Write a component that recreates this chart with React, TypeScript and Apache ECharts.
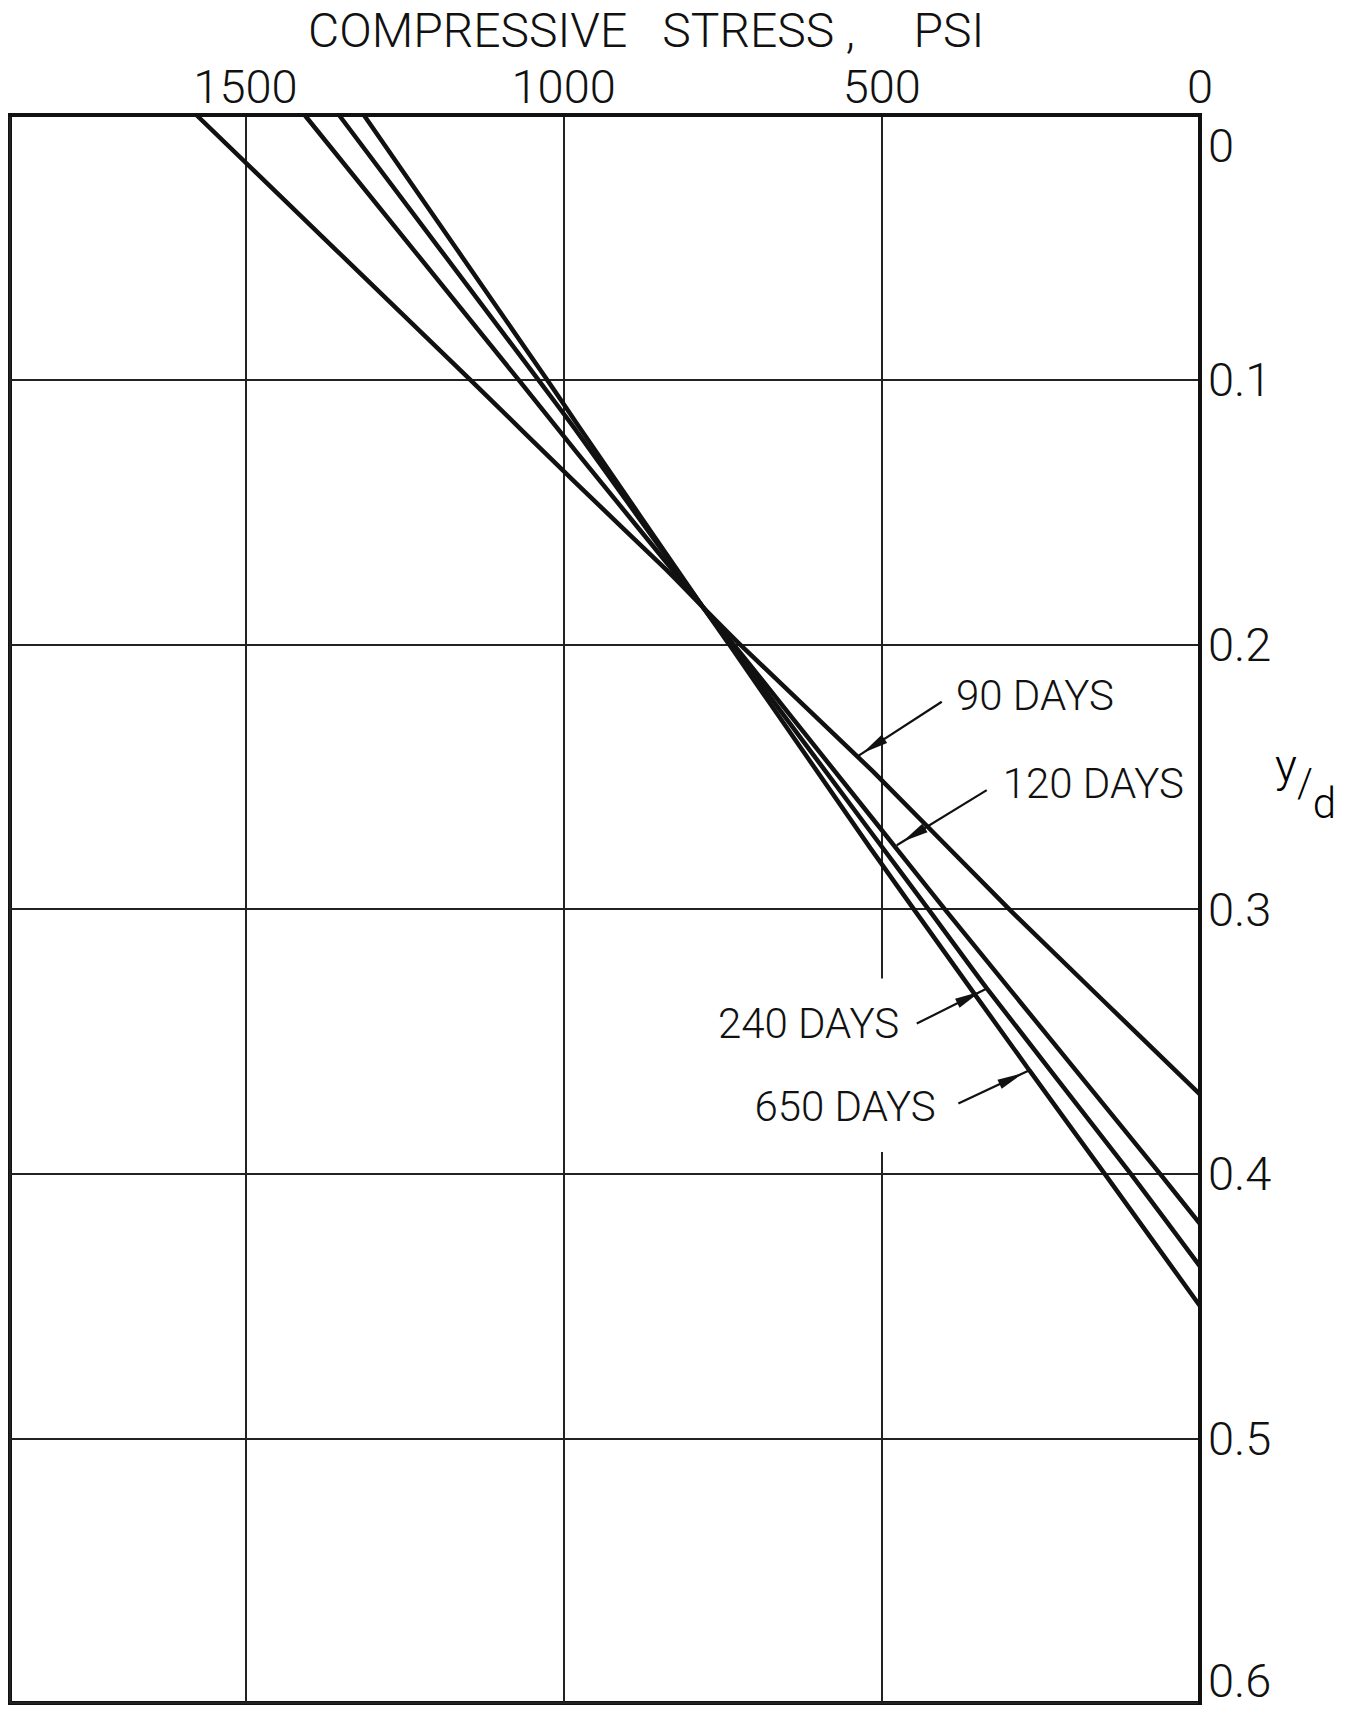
import React, { useEffect, useRef } from "react";
import * as echarts from "echarts";

// Compressive stress (psi) vs depth ratio y/d
const days90: [number, number][] = [
  [1577, 0], [1147, 0.1], [981, 0.139], [838, 0.172], [781, 0.186], [723, 0.2],
  [514, 0.248], [296, 0.301], [0, 0.37],
];
const days120: [number, number][] = [
  [1407, 0], [1071, 0.1], [981, 0.127], [781, 0.186], [733, 0.2], [514, 0.266],
  [398, 0.301], [63, 0.4], [0, 0.419],
];
const days240: [number, number][] = [
  [1353, 0], [1040, 0.1], [981, 0.119], [781, 0.186], [737, 0.2], [517, 0.271],
  [424, 0.301], [335, 0.33], [109, 0.4], [0, 0.435],
];
const days650: [number, number][] = [
  [1314, 0], [1026, 0.1], [981, 0.116], [781, 0.186], [740, 0.2], [518, 0.277],
  [447, 0.301], [268, 0.361], [150, 0.4], [0, 0.45],
];

const seriesNames = ["90 DAYS", "120 DAYS", "240 DAYS", "650 DAYS"];
const seriesData = [days90, days120, days240, days650];

// Annotation labels with arrows (data coordinates: [psi, y/d])
const annotationTexts = ["90 DAYS", "120 DAYS", "240 DAYS", "650 DAYS"];
const annotationAlign = ["left", "left", "right", "right"];
const annotationLabelAt: [number, number][] = [[392.8, 0.2192], [319.4, 0.2526], [463.3, 0.3433], [405.8, 0.3748]];
const annotationTail: [number, number][] = [[405.8, 0.2217], [335.1, 0.2551], [445.1, 0.3433], [379.7, 0.3735]];
const annotationTip: [number, number][] = [[539.4, 0.2425], [476.5, 0.2759], [335, 0.33], [268, 0.3609]];

const xTitle = "COMPRESSIVE   STRESS ,     PSI";
const FONT = "Roboto, 'DejaVu Sans', sans-serif";
const INK = "#111";

export default function App() {
  const ref = useRef<HTMLDivElement>(null);
  useEffect(() => {
    document.body.style.margin = "0";
    document.body.style.overflow = "hidden";
    const chart = echarts.init(ref.current!, null, { renderer: "svg" });
    const labelFont = { fontFamily: FONT, fontWeight: 300, fontSize: 47, color: INK };
    const option: any = {
      animation: false,
      backgroundColor: "#ffffff",
      title: {
        text: xTitle,
        left: 303,
        top: 1,
        textStyle: { fontFamily: FONT, fontWeight: 300, fontSize: 48, color: INK },
      },
      grid: {
        left: 10, right: 148, top: 115, bottom: 7,
        show: true, borderColor: INK, borderWidth: 4, backgroundColor: "transparent",
      },
      xAxis: {
        type: "value", position: "top", inverse: true, min: 0, max: 1870, interval: 500,
        axisLine: { show: true, lineStyle: { color: INK, width: 4 } },
        axisTick: { show: false },
        splitLine: { show: true, lineStyle: { color: "#222", width: 2 } },
        axisLabel: {
          margin: 5, showMaxLabel: false, ...labelFont,
          formatter: (v: number) => (v % 500 === 0 ? String(v) : ""),
        },
      },
      yAxis: {
        type: "value", position: "right", inverse: true, min: 0, max: 0.6, interval: 0.1,
        axisLine: { show: true, lineStyle: { color: INK, width: 4 } },
        axisTick: { show: false },
        splitLine: { show: true, lineStyle: { color: "#222", width: 2 } },
        axisLabel: {
          margin: 8, ...labelFont,
          formatter: (v: number) => {
            if (v < 1e-9) return "{lo|0}";
            if (Math.abs(v - 0.6) < 1e-9) return "{hi|0.6}";
            return v.toFixed(1);
          },
          rich: {
            lo: { padding: [60, 0, 0, 0], ...labelFont },
            hi: { padding: [0, 0, 46, 0], ...labelFont },
          },
        },
      },
      series: seriesData.map((d, i) => ({
        name: seriesNames[i],
        type: "line",
        data: d,
        showSymbol: false,
        symbol: "none",
        smooth: 0.15,
        lineStyle: { color: INK, width: 4.5 },
        z: 3,
      })),
    };
    chart.setOption(option);

    const graphics: any[] = [];
    for (let i = 0; i < annotationTexts.length; i++) {
      const L = chart.convertToPixel({ xAxisIndex: 0, yAxisIndex: 0 }, annotationLabelAt[i]) as number[];
      const T = chart.convertToPixel({ xAxisIndex: 0, yAxisIndex: 0 }, annotationTail[i]) as number[];
      const P = chart.convertToPixel({ xAxisIndex: 0, yAxisIndex: 0 }, annotationTip[i]) as number[];
      graphics.push({
        type: "text", x: L[0], y: L[1], z: 9,
        style: {
          text: annotationTexts[i], fill: INK, fontFamily: FONT, fontWeight: 300, fontSize: 42,
          align: annotationAlign[i], verticalAlign: "middle",
          backgroundColor: "#ffffff", padding: [24, 6, 24, 6],
        },
      });
      graphics.push({
        type: "line", z: 10,
        shape: { x1: T[0], y1: T[1], x2: P[0], y2: P[1] },
        style: { stroke: INK, lineWidth: 2.2 },
      });
      const dx = T[0] - P[0];
      const dy = T[1] - P[1];
      const len = Math.sqrt(dx * dx + dy * dy);
      const ux = dx / len, uy = dy / len;
      const nx = -uy, ny = ux;
      const ax = P[0] + ux * 7, ay = P[1] + uy * 7;
      const bx = P[0] + ux * 33, by = P[1] + uy * 33;
      graphics.push({
        type: "polygon", z: 10,
        shape: { points: [[ax, ay], [bx + nx * 5, by + ny * 5], [bx - nx * 5, by - ny * 5]] },
        style: { fill: INK },
      });
    }
    // y/d axis name (y raised, d lowered)
    graphics.push({
      type: "text", x: 1275, y: 743, z: 10,
      style: {
        text: "{y|y}{s|/}{d|d}",
        align: "left", verticalAlign: "top",
        rich: {
          y: { fontFamily: FONT, fontWeight: 300, fontSize: 46, lineHeight: 46, color: INK, verticalAlign: "top" },
          s: { fontFamily: FONT, fontWeight: 300, fontSize: 40, lineHeight: 81, color: INK, verticalAlign: "middle" },
          d: { fontFamily: FONT, fontWeight: 300, fontSize: 42, lineHeight: 42, color: INK, verticalAlign: "bottom" },
        },
      },
    });
    chart.setOption({ graphic: graphics });

    return () => chart.dispose();
  }, []);
  return <div ref={ref} style={{ width: 1348, height: 1710 }} />;
}
